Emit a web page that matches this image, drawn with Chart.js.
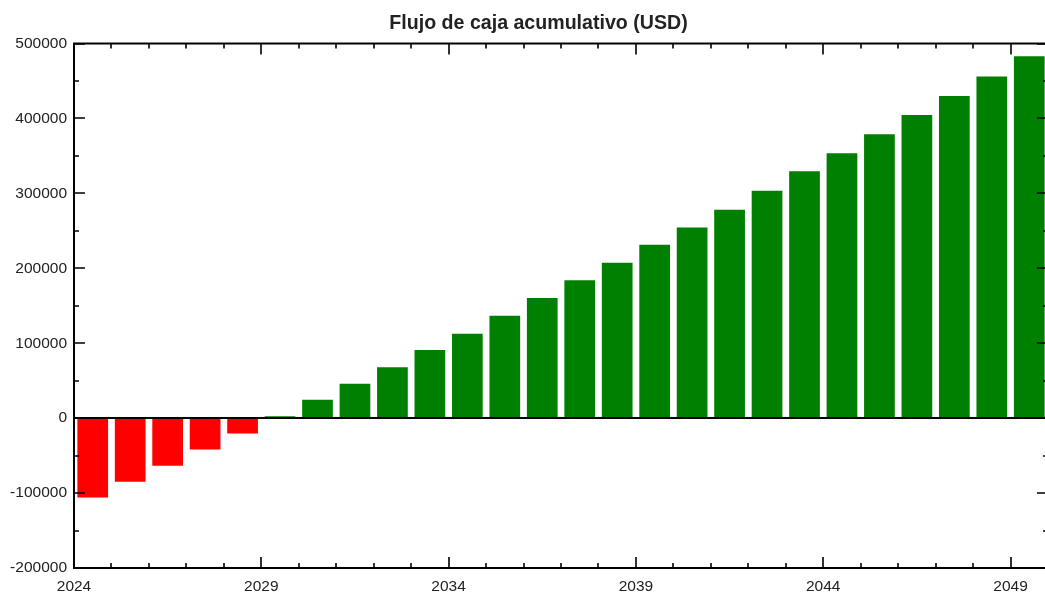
<!DOCTYPE html>
<html>
<head>
<meta charset="utf-8">
<script src="https://cdn.jsdelivr.net/npm/chart.js@4/dist/chart.umd.min.js"></script>
<style>
  html, body { margin: 0; padding: 0; background: #fff; overflow: hidden; }
  #wrap { width: 1077px; height: 598px; }
</style>
</head>
<body>
<div id="wrap"><canvas id="c" width="1077" height="598"></canvas></div>
<script>
// ---- data ----
const years = [2024, 2025, 2026, 2027, 2028, 2029, 2030, 2031, 2032, 2033, 2034, 2035, 2036,
               2037, 2038, 2039, 2040, 2041, 2042, 2043, 2044, 2045, 2046, 2047, 2048, 2049];
const cashFlow = [-106000, -85000, -63500, -42000, -20500, 2500, 24500, 46000, 67800, 91000,
                  112500, 136500, 160500, 184000, 207500, 231500, 254500, 278000, 303500,
                  329500, 353500, 379000, 404500, 430000, 456000, 483000];
const xTickLabels = [2024, 2029, 2034, 2039, 2044, 2049];
const yTickLabels = [-200000, -100000, 0, 100000, 200000, 300000, 400000, 500000];
const titleText = 'Flujo de caja acumulativo (USD)';

const FONT = '"Liberation Sans", Arial, sans-serif';
const TEXT = '#222';

const framePlugin = {
  id: 'frame',
  afterDatasetsDraw(chart) {
    const { ctx, chartArea: { left, right, top, bottom }, scales: { x, y } } = chart;
    ctx.save();
    ctx.strokeStyle = '#000';
    // zero line
    ctx.lineWidth = 2;
    const y0 = Math.round(y.getPixelForValue(0));
    ctx.beginPath(); ctx.moveTo(left, y0); ctx.lineTo(right, y0); ctx.stroke();
    // frame
    ctx.strokeRect(left, top, right - left, bottom - top);
    // inward ticks
    ctx.lineWidth = 1.6;
    x.ticks.forEach(t => {
      const px = Math.round(x.getPixelForValue(t.value));
      const len = xTickLabels.includes(t.value) ? 11 : 5;
      ctx.beginPath();
      ctx.moveTo(px, bottom); ctx.lineTo(px, bottom - len);
      ctx.moveTo(px, top); ctx.lineTo(px, top + len);
      ctx.stroke();
    });
    y.ticks.forEach(t => {
      const py = Math.round(y.getPixelForValue(t.value));
      const len = yTickLabels.includes(t.value) ? 11 : 5;
      ctx.beginPath();
      ctx.moveTo(left, py); ctx.lineTo(left + len, py);
      ctx.moveTo(right, py); ctx.lineTo(right - len, py);
      ctx.stroke();
    });
    ctx.restore();
  }
};

new Chart(document.getElementById('c'), {
  type: 'bar',
  data: {
    datasets: [{
      data: years.map((yr, i) => ({ x: yr + 0.5, y: cashFlow[i] })),
      backgroundColor: ctx => (ctx.raw && ctx.raw.y < 0 ? '#ff0000' : '#008000'),
      borderWidth: 0,
      categoryPercentage: 1,
      barPercentage: 0.82
    }]
  },
  options: {
    responsive: false,
    animation: false,
    layout: { padding: 0 },
    plugins: {
      legend: { display: false },
      tooltip: { enabled: false },
      title: {
        display: true,
        text: titleText,
        color: TEXT,
        font: { family: FONT, size: 19.6, weight: 'bold' },
        padding: { top: 12, bottom: 8 }
      }
    },
    scales: {
      x: {
        type: 'linear',
        offset: false,
        min: 2024,
        max: 2050,
        grid: { display: false, drawTicks: false, offset: false },
        border: { display: false },
        afterFit: s => { s.height = 30; },
        ticks: {
          stepSize: 1,
          autoSkip: false,
          maxRotation: 0,
          minRotation: 0,
          padding: 9,
          color: TEXT,
          font: { family: FONT, size: 15.5 },
          callback: v => (xTickLabels.includes(v) ? String(v) : '')
        }
      },
      y: {
        position: 'left',
        min: -200000,
        max: 500000,
        grid: { display: false, drawTicks: false },
        border: { display: false },
        afterFit: s => { s.width = 74; },
        ticks: {
          stepSize: 50000,
          autoSkip: false,
          padding: 7,
          color: TEXT,
          font: { family: FONT, size: 15.5 },
          callback: v => (yTickLabels.includes(v) ? String(v) : '')
        }
      },
      yRight: {
        position: 'right',
        display: true,
        grid: { display: false, drawTicks: false },
        border: { display: false },
        ticks: { display: false },
        afterFit: s => { s.width = 29; }
      }
    }
  },
  plugins: [framePlugin]
});
</script>
</body>
</html>
